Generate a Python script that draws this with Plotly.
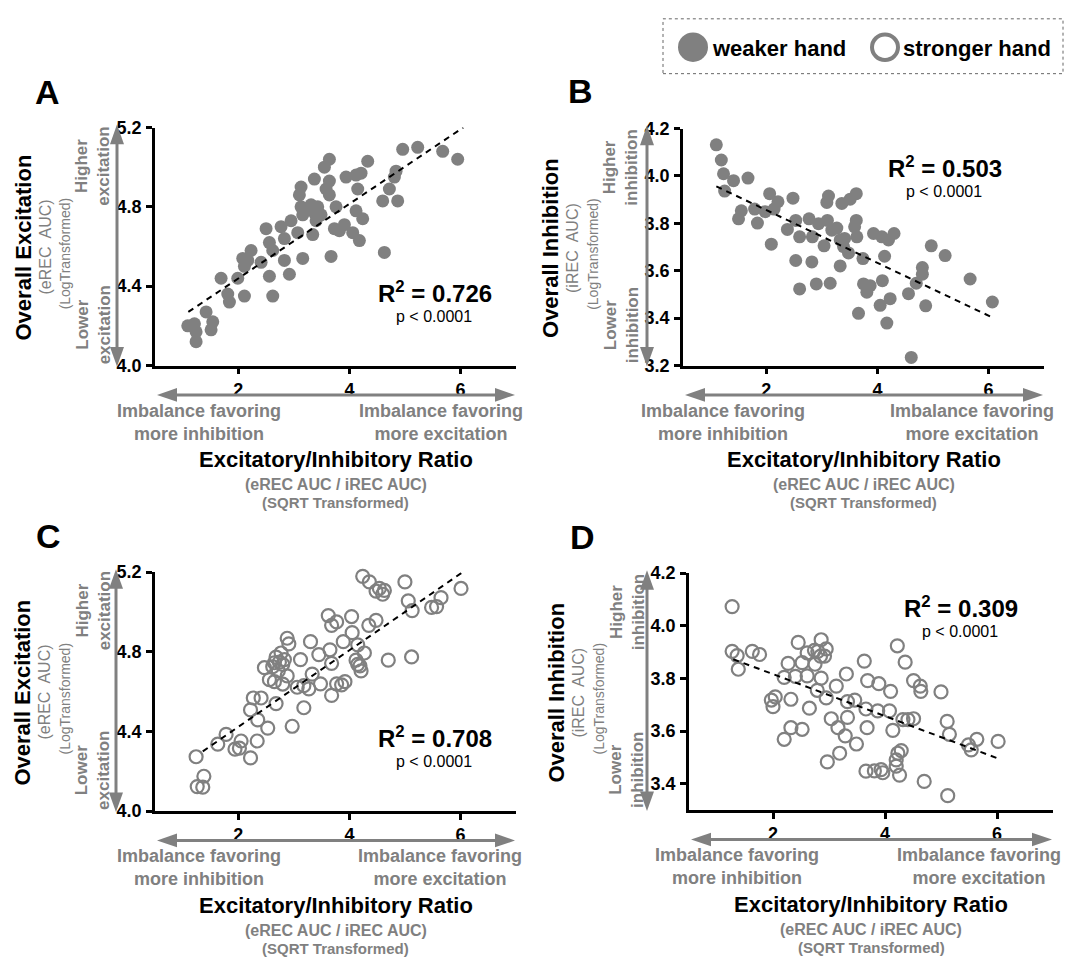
import plotly.graph_objects as go

W, H = 1065, 968
GRAY = "#808080"
FONT = "Liberation Sans, Arial, sans-serif"

# ---------------- data ----------------
# Panel A: weaker hand, excitation vs E/I ratio
A_x = [1.09, 1.21, 1.24, 1.24, 1.42, 1.54, 1.51, 1.69, 1.81, 1.84, 1.99, 2.11, 2.08, 2.11, 2.23, 2.17,
       2.41, 2.50, 2.56, 2.62, 2.56, 2.62, 2.77, 2.83, 2.83, 2.92, 2.95, 3.07, 3.10, 3.13, 3.13, 3.16,
       3.16, 3.31, 3.37, 3.34, 3.37, 3.43, 3.40, 3.49, 3.55, 3.64, 3.64, 3.58, 3.64, 3.76, 3.73, 3.67,
       3.82, 3.91, 3.94, 4.06, 4.12, 4.12, 4.15, 4.21, 4.18, 4.24, 4.33, 4.60, 4.63, 4.72, 4.81, 4.84,
       4.87, 4.96, 5.23, 5.68, 5.95, 3.25]
A_y = [4.20, 4.21, 4.17, 4.12, 4.27, 4.22, 4.18, 4.44, 4.36, 4.32, 4.44, 4.35, 4.54, 4.50, 4.58, 4.53,
       4.52, 4.69, 4.62, 4.58, 4.45, 4.35, 4.70, 4.64, 4.53, 4.46, 4.73, 4.67, 4.86, 4.90, 4.80, 4.76,
       4.54, 4.81, 4.77, 4.66, 4.94, 4.80, 4.73, 4.76, 5.00, 5.04, 4.93, 4.89, 4.86, 4.80, 4.69, 4.55,
       4.68, 4.71, 4.95, 4.67, 4.96, 4.78, 4.89, 4.97, 4.63, 4.74, 5.03, 4.83, 4.57, 4.89, 4.95, 4.98,
       4.83, 5.09, 5.10, 5.08, 5.04, 4.79]
A_fit_x = [1.10, 6.05]
A_fit_y = [4.27, 5.20]

# Panel B: weaker hand, inhibition vs E/I ratio
B_x = [1.10, 1.19, 1.23, 1.25, 1.41, 1.67, 1.55, 1.50, 1.79, 1.84, 1.98, 2.06, 2.14, 2.21, 2.09, 2.38,
       2.48, 2.53, 2.60, 2.53, 2.60, 2.77, 2.83, 2.82, 2.90, 2.94, 3.04, 3.09, 3.12, 3.10, 3.18, 3.15,
       3.27, 3.36, 3.33, 3.39, 3.41, 3.48, 3.33, 3.51, 3.62, 3.62, 3.59, 3.63, 3.74, 3.66, 3.75, 3.81,
       3.87, 3.93, 4.08, 4.13, 4.09, 4.20, 4.30, 4.05, 4.23, 4.17, 4.56, 4.61, 4.70, 4.81, 4.81, 4.87,
       4.97, 5.22, 5.67, 6.07]
B_y = [4.131, 4.067, 4.009, 3.936, 3.980, 3.991, 3.853, 3.819, 3.860, 3.801, 3.849, 3.925, 3.860, 3.891,
       3.712, 3.774, 3.906, 3.812, 3.743, 3.643, 3.523, 3.819, 3.743, 3.637, 3.544, 3.798, 3.705, 3.888,
       3.915, 3.812, 3.771, 3.547, 3.780, 3.884, 3.730, 3.702, 3.736, 3.675, 3.620, 3.902, 3.925, 3.812,
       3.785, 3.743, 3.651, 3.420, 3.544, 3.509, 3.537, 3.757, 3.743, 3.661, 3.558, 3.730, 3.757, 3.454,
       3.482, 3.379, 3.503, 3.234, 3.547, 3.613, 3.585, 3.452, 3.705, 3.664, 3.565, 3.468]
B_fit_x = [1.10, 6.05]
B_fit_y = [3.956, 3.405]

# Panel C: stronger hand, excitation vs E/I ratio
C_x = [1.24, 1.26, 1.38, 1.36, 1.63, 1.78, 1.94, 2.02, 2.05, 2.22, 2.34, 2.35, 2.22, 2.27, 2.41, 2.53,
       2.68, 2.47, 2.56, 2.62, 2.65, 2.74, 2.77, 2.80, 2.88, 2.91, 2.88, 2.80, 2.97, 3.12, 3.06, 3.18,
       3.27, 3.30, 3.33, 3.18, 3.45, 3.48, 3.62, 3.68, 3.65, 3.68, 3.68, 3.77, 3.86, 3.92, 3.89, 4.04,
       4.05, 4.15, 4.15, 4.21, 4.27, 4.35, 4.48, 4.24, 4.36, 4.48, 4.60, 4.63, 4.70, 5.00, 5.06, 5.13,
       5.12, 5.48, 5.57, 5.65, 6.01, 2.65, 2.68, 2.72, 2.83, 4.12, 4.19, 3.77, 4.54]
C_y = [4.273, 4.123, 4.175, 4.120, 4.336, 4.385, 4.311, 4.316, 4.352, 4.267, 4.352, 4.458, 4.508, 4.568,
       4.568, 4.417, 4.540, 4.720, 4.660, 4.725, 4.650, 4.748, 4.794, 4.737, 4.868, 4.840, 4.679, 4.638,
       4.426, 4.761, 4.622, 4.630, 4.614, 4.851, 4.688, 4.519, 4.786, 4.639, 4.982, 4.933, 4.810, 4.742,
       4.581, 4.950, 4.634, 4.650, 4.851, 4.977, 4.896, 4.835, 4.737, 4.704, 4.794, 4.933, 4.958, 5.179,
       5.151, 5.105, 5.089, 5.108, 4.758, 5.151, 5.056, 5.007, 4.774, 5.023, 5.027, 5.072, 5.118, 4.745,
       4.773, 4.704, 4.761, 4.758, 4.729, 4.639, 5.118]
C_fit_x = [1.36, 6.04]
C_fit_y = [4.30, 5.20]

# Panel D: stronger hand, inhibition vs E/I ratio
D_x = [1.27, 1.27, 1.36, 1.38, 1.63, 1.76, 1.97, 2.00, 2.04, 2.20, 2.32, 2.52, 2.32, 2.20, 2.27, 2.40,
       2.45, 2.52, 2.65, 2.61, 2.61, 2.74, 2.75, 2.79, 2.86, 2.86, 2.95, 2.95, 2.97, 3.04, 3.16, 3.19,
       3.13, 3.29, 3.31, 3.33, 3.33, 3.46, 3.49, 3.63, 3.66, 3.68, 3.69, 3.66, 3.81, 3.89, 3.87, 3.93,
       3.96, 4.08, 4.10, 4.14, 4.22, 4.20, 4.20, 4.26, 4.29, 4.32, 4.36, 4.41, 4.51, 4.51, 4.63, 4.64,
       4.70, 5.00, 5.11, 5.15, 5.12, 5.49, 5.54, 5.64, 6.02, 4.23, 2.92, 2.80, 2.85]
D_y = [4.073, 3.903, 3.887, 3.835, 3.903, 3.891, 3.718, 3.693, 3.730, 3.569, 3.613, 3.607, 3.721, 3.804,
       3.857, 3.808, 3.937, 3.860, 3.687, 3.810, 3.897, 3.907, 3.854, 3.755, 3.947, 3.801, 3.912, 3.726,
       3.483, 3.647, 3.613, 3.516, 3.771, 3.582, 3.817, 3.712, 3.652, 3.718, 3.551, 3.866, 3.684, 3.613,
       3.792, 3.448, 3.449, 3.780, 3.677, 3.454, 3.442, 3.677, 3.751, 3.603, 3.924, 3.491, 3.467, 3.433,
       3.526, 3.644, 3.862, 3.644, 3.647, 3.792, 3.771, 3.751, 3.409, 3.749, 3.637, 3.588, 3.355, 3.548,
       3.529, 3.569, 3.561, 3.516, 3.885, 3.903, 3.885]
D_fit_x = [1.29, 6.02]
D_fit_y = [3.873, 3.496]

X_TICKS = [2, 4, 6]
EXC_TICKS = [4.0, 4.4, 4.8, 5.2]
INH_TICKS_B = [3.2, 3.4, 3.6, 3.8, 4.0, 4.2]
INH_TICKS_D = [3.4, 3.6, 3.8, 4.0, 4.2]

R2_TEXT = {"A": "0.726", "B": "0.503", "C": "0.708", "D": "0.309"}
LEGEND_LABELS = ["weaker hand", "stronger hand"]


# ---------------- helpers ----------------
def px(x):
    return x / W


def py(y):
    return 1 - y / H


annotations = []
shapes = []


def ann(x, y, text, size, color="black", bold=False, angle=0, xanchor="center", yanchor="middle"):
    annotations.append(dict(
        x=px(x), y=py(y), xref="paper", yref="paper", text=text, showarrow=False,
        textangle=angle, xanchor=xanchor, yanchor=yanchor, align="center",
        font=dict(family=FONT, size=size, color=color, weight="bold" if bold else "normal"),
    ))


def tri(points):
    path = "M " + " L ".join(f"{px(a):.5f},{py(b):.5f}" for a, b in points) + " Z"
    shapes.append(dict(type="path", path=path, xref="paper", yref="paper",
                       fillcolor=GRAY, line=dict(width=0)))


def vline_arrow(x, y_top, y_bot, head_len=20, head_w=7):
    shapes.append(dict(type="line", xref="paper", yref="paper",
                       x0=px(x), x1=px(x), y0=py(y_top + head_len - 2), y1=py(y_bot - head_len + 2),
                       line=dict(color=GRAY, width=3)))
    tri([(x, y_top), (x - head_w, y_top + head_len), (x + head_w, y_top + head_len)])
    tri([(x, y_bot), (x - head_w, y_bot - head_len), (x + head_w, y_bot - head_len)])


def hline_arrow(y, x_left, x_right, head_len=20, head_w=7):
    shapes.append(dict(type="line", xref="paper", yref="paper",
                       x0=px(x_left + head_len - 2), x1=px(x_right - head_len + 2), y0=py(y), y1=py(y),
                       line=dict(color=GRAY, width=3)))
    tri([(x_left, y), (x_left + head_len, y - head_w), (x_left + head_len, y + head_w)])
    tri([(x_right, y), (x_right - head_len, y - head_w), (x_right - head_len, y + head_w)])


fig = go.Figure()

panels = [
    dict(name="A", x=A_x, y=A_y, fx=A_fit_x, fy=A_fit_y, filled=True,
         box=(155, 516, 120, 363), yr=[4.0, 5.2], yt=EXC_TICKS, kind="Excitation",
         yarrow=117, lab=(47, 84), r2=(435, 288), left_t=199, right_t=441),
    dict(name="B", x=B_x, y=B_y, fx=B_fit_x, fy=B_fit_y, filled=True,
         box=(683, 1044, 121, 363), yr=[3.2, 4.2], yt=INH_TICKS_B, kind="Inhibition",
         yarrow=647, lab=(580, 83), r2=(945, 160), left_t=723, right_t=972),
    dict(name="C", x=C_x, y=C_y, fx=C_fit_x, fy=C_fit_y, filled=False,
         box=(155, 516, 574, 818), yr=[4.0, 5.2], yt=EXC_TICKS, kind="Excitation",
         yarrow=116, lab=(48, 537), r2=(435, 742), left_t=199, right_t=440),
    dict(name="D", x=D_x, y=D_y, fx=D_fit_x, fy=D_fit_y, filled=False,
         box=(689, 1053, 575, 817), yr=[3.3, 4.2], yt=INH_TICKS_D, kind="Inhibition",
         yarrow=647, lab=(582, 538), r2=(961, 610), left_t=737, right_t=979),
]

layout_axes = {}
for i, p in enumerate(panels, start=1):
    xa = "x" if i == 1 else f"x{i}"
    ya = "y" if i == 1 else f"y{i}"
    L, R, T, B = p["box"]
    if p["filled"]:
        marker = dict(size=13, color=GRAY, symbol="circle", line=dict(width=0))
    else:
        marker = dict(size=13, color=GRAY, symbol="circle-open", line=dict(width=2.2, color=GRAY))
    fig.add_trace(go.Scatter(x=p["x"], y=p["y"], mode="markers", marker=marker,
                             xaxis=xa, yaxis=ya, showlegend=False, cliponaxis=False))
    fig.add_trace(go.Scatter(x=p["fx"], y=p["fy"], mode="lines",
                             line=dict(color="black", width=2, dash="6px,5px"),
                             xaxis=xa, yaxis=ya, showlegend=False))
    axis_common = dict(showline=True, linecolor="black", linewidth=2.5, ticks="outside",
                       tickwidth=2.5, ticklen=6, tickcolor="black", showgrid=False, zeroline=False,
                       tickfont=dict(family=FONT, size=18, color="black", weight="bold"))
    layout_axes["xaxis" if i == 1 else f"xaxis{i}"] = dict(
        axis_common, domain=[px(L), px(R)], range=[0.5, 7], tickvals=X_TICKS,
        anchor=ya, fixedrange=True, ticklabelstandoff=0)
    layout_axes["yaxis" if i == 1 else f"yaxis{i}"] = dict(
        axis_common, domain=[py(B), py(T)], range=p["yr"], tickvals=p["yt"], tickformat=".1f",
        anchor=xa, fixedrange=True, ticklabelstandoff=1)

    # panel letter
    ann(p["lab"][0], p["lab"][1], p["name"], 34, bold=True)
    # y-axis labels
    kind = p["kind"]
    ycen = (T + B) / 2
    ann(L - 132, ycen + 1, f"Overall {kind}", 22, bold=True, angle=-90)
    sub = "(eREC  AUC)" if kind == "Excitation" else "(iREC  AUC)"
    ann(L - 110, ycen + 1, sub, 16, color=GRAY, angle=-90)
    ann(L - 90, ycen + 7, "(LogTransformed)", 14, color=GRAY, angle=-90)
    word = kind.lower()
    ann(L - 62, T + 40, f"Higher<br>{word}", 17, color=GRAY, bold=True, angle=-90)
    ann(L - 62, B - 41, f"Lower<br>{word}", 17, color=GRAY, bold=True, angle=-90)
    vline_arrow(p["yarrow"], T - 3, B + 1)
    # x-axis labels
    hline_arrow(B + 30, L + 2, R - 1)
    ann(p["left_t"], B + 58, "Imbalance favoring<br>more inhibition", 18, color=GRAY, bold=True)
    ann(p["right_t"], B + 58, "Imbalance favoring<br>more excitation", 18, color=GRAY, bold=True)
    xc = (L + R) / 2
    ann(xc, B + 96, "Excitatory/Inhibitory Ratio", 22, bold=True)
    ann(xc, B + 122, "(eREC AUC / iREC AUC)", 16, color=GRAY, bold=True)
    ann(xc, B + 140, "(SQRT Transformed)", 15, color=GRAY, bold=True)
    # R^2
    ann(p["r2"][0], p["r2"][1], f"R<sup>2</sup> = {R2_TEXT[p['name']]}", 24, bold=True)
    ann(p["r2"][0] - 1, p["r2"][1] + 25, "p &lt; 0.0001", 16)

# legend box (dotted) with circle icons
shapes.append(dict(type="rect", xref="paper", yref="paper", x0=px(663), x1=px(1063),
                   y0=py(65), y1=py(9), line=dict(color="#666666", width=1, dash="dot")))
shapes.append(dict(type="circle", xref="paper", yref="paper", x0=px(678), x1=px(708),
                   y0=py(53), y1=py(23), fillcolor=GRAY, line=dict(width=0)))
shapes.append(dict(type="circle", xref="paper", yref="paper", x0=px(872), x1=px(898),
                   y0=py(51), y1=py(25), fillcolor="white", line=dict(color=GRAY, width=4)))
ann(710, 39, LEGEND_LABELS[0], 22, bold=True, xanchor="left")
ann(901, 39, LEGEND_LABELS[1], 22, bold=True, xanchor="left")

fig.update_layout(
    width=W, height=H, margin=dict(l=0, r=0, t=0, b=0),
    paper_bgcolor="white", plot_bgcolor="white",
    annotations=annotations, shapes=shapes, showlegend=False,
    **layout_axes,
)

fig.write_html("out.html", config={"displayModeBar": False},
               post_script="document.body.style.margin='0px';document.body.style.overflow='hidden';")
